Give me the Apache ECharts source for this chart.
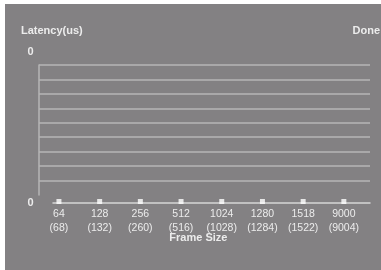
<!DOCTYPE html>
<html>
<head>
<meta charset="utf-8">
<script src="https://cdn.jsdelivr.net/npm/echarts@6/dist/echarts.min.js"></script>
<style>
  html, body { margin: 0; padding: 0; background: #ffffff; }
  #grafico { position: absolute; left: 5px; top: 4px; width: 376px; height: 266px; }
</style>
</head>
<body>
<div id="grafico"></div>
<script>
// dados
var frameSizes = ['64', '128', '256', '512', '1024', '1280', '1518', '9000'];
var frameSizesWire = ['68', '132', '260', '516', '1028', '1284', '1522', '9004'];
var latencia = [0, 0, 0, 0, 0, 0, 0, 0];
var rotulosY = ['0', '0'];

var fonte = "'Liberation Sans', Arial, sans-serif";
var corTexto = '#ececec';

var grafico = echarts.init(document.getElementById('grafico'));

var option = {
    backgroundColor: '#838183',
    animation: false,
    title: [
        { text: 'Latency(us)', left: 16, top: 21, padding: 0,
          textStyle: { color: corTexto, fontFamily: fonte, fontSize: 11, fontWeight: 'bold' } },
        { text: 'Done', right: 1, top: 21, padding: 0,
          textStyle: { color: corTexto, fontFamily: fonte, fontSize: 11, fontWeight: 'bold' } }
    ],
    grid: [
        // linhas de grade
        { left: 34, right: 11, top: 61, height: 130 },
        // eixo de categorias
        { left: 33.6, width: 325.6, top: 48, height: 151 },
        // linha do eixo x
        { left: 48, right: 11, top: 48, height: 151 }
    ],
    xAxis: [
        { gridIndex: 0, type: 'value', min: 0, max: 1, show: false },
        {
            gridIndex: 1, type: 'category', data: frameSizes,
            axisLine: { show: false }, axisTick: { show: false },
            axisLabel: {
                interval: 0, margin: 4, color: corTexto, fontFamily: fonte, fontSize: 10.5, lineHeight: 14,
                formatter: function (v, i) { return v + '\n(' + frameSizesWire[i] + ')'; }
            },
            name: 'Frame Size', nameLocation: 'middle', nameGap: 29, nameMoveOverlap: false,
            nameTextStyle: { color: corTexto, fontFamily: fonte, fontSize: 11, fontWeight: 'bold', padding: [0, 6, 0, 0] }
        },
        {
            gridIndex: 2, type: 'value', min: 0, max: 1,
            axisLine: { show: true, lineStyle: { color: '#d6d6d6', width: 1.5 } },
            axisTick: { show: false }, axisLabel: { show: false }, splitLine: { show: false }
        }
    ],
    yAxis: [
        {
            gridIndex: 0, type: 'value', min: 0, max: 9, interval: 1,
            axisLine: { show: true, lineStyle: { color: '#b6b6b6', width: 1.5 } },
            axisTick: { show: false }, axisLabel: { show: false },
            splitLine: { show: true, showMinLine: false, lineStyle: { color: '#b6b6b6', width: 1.5 } }
        },
        {
            gridIndex: 1, type: 'value', min: 0, max: 1, interval: 1,
            axisLine: { show: false }, axisTick: { show: false }, splitLine: { show: false },
            axisLabel: {
                margin: 5, color: corTexto, fontFamily: fonte, fontSize: 11, fontWeight: 'bold',
                formatter: function (v) { return rotulosY[v]; }
            }
        },
        { gridIndex: 2, type: 'value', min: 0, max: 1, show: false }
    ],
    series: [{
        name: 'Latency',
        type: 'scatter',
        xAxisIndex: 1,
        yAxisIndex: 1,
        data: latencia,
        symbol: 'rect',
        symbolSize: 5,
        symbolOffset: [0, -1.5],
        itemStyle: { color: '#ffffff' }
    }]
};
grafico.setOption(option);
</script>
</body>
</html>
